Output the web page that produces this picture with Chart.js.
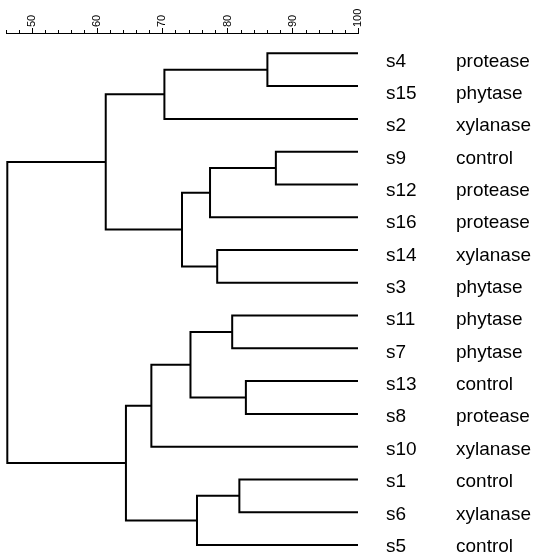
<!DOCTYPE html>
<html>
<head>
<meta charset="utf-8">
<script src="https://cdn.jsdelivr.net/npm/chart.js@4/dist/chart.umd.min.js"></script>
<style>
  html, body { margin: 0; padding: 0; background: #fff; }
  #wrap { width: 537px; height: 555px; }
</style>
</head>
<body>
<div id="wrap"><canvas id="dendro"></canvas></div>
<script>
// leaves, top to bottom
const samples = ['s4', 's15', 's2', 's9', 's12', 's16', 's14', 's3', 's11', 's7', 's13', 's8', 's10', 's1', 's6', 's5'];
const treatments = ['protease', 'phytase', 'xylanase', 'control', 'protease', 'protease', 'xylanase', 'phytase',
                    'phytase', 'phytase', 'control', 'protease', 'xylanase', 'control', 'xylanase', 'control'];

// joins in order; a number points at an earlier join, a string at a sample
const mergeA = ['s4', 0, 's9', 2, 's14', 3, 1, 's11', 's13', 7, 9, 's1', 11, 10, 6];
const mergeB = ['s15', 's2', 's12', 's16', 's3', 4, 5, 's7', 's8', 8, 's10', 's6', 's5', 12, 13];
const mergeLevel = [86.1, 70.3, 87.4, 77.3, 78.4, 73.0, 61.3, 80.7, 82.8, 74.3, 68.3, 81.8, 75.3, 64.4, 46.2];

const leafLevel = 100;
const axisLabels = [50, 60, 70, 80, 90, 100];

Chart.defaults.font.family = '"Liberation Sans", Arial, sans-serif';
Chart.defaults.color = '#000';

const nodes = [];
function place(c) {
    if (typeof c === 'string') return { x: leafLevel, y: samples.indexOf(c) };
    return nodes[c];
}

const datasets = mergeLevel.map(function (lv, i) {
    const a = place(mergeA[i]);
    const b = place(mergeB[i]);
    nodes[i] = { x: lv, y: (a.y + b.y) / 2 };
    return {
        data: [{ x: a.x, y: a.y }, { x: lv, y: a.y }, { x: lv, y: b.y }, { x: b.x, y: b.y }],
        showLine: true,
        borderColor: '#000',
        borderWidth: 2,
        pointRadius: 0,
        clip: false
    };
});

// short ticks between the labelled ones
const minorTicks = {
    id: 'minorTicks',
    afterDraw(chart) {
        const sc = chart.scales.x, ctx = chart.ctx;
        ctx.save();
        ctx.strokeStyle = '#000';
        ctx.lineWidth = 1;
        sc.ticks.forEach(function (t) {
            if (Math.round(t.value) % 10 === 0) return;
            const px = Math.round(sc.getPixelForValue(t.value)) + 0.5;
            ctx.beginPath();
            ctx.moveTo(px, sc.bottom);
            ctx.lineTo(px, sc.bottom - 3);
            ctx.stroke();
        });
        ctx.restore();
    }
};

function leafTicks(scale) {
    scale.ticks = samples.map((_, i) => ({ value: i }));
}

function fixSide(width) {
    return function (scale) {
        scale.width = width;
        scale.paddingTop = 0;
        scale.paddingBottom = 0;
    };
}

new Chart(document.getElementById('dendro'), {
    type: 'scatter',
    data: { datasets: datasets },
    plugins: [minorTicks],
    options: {
        responsive: true,
        maintainAspectRatio: false,
        animation: false,
        layout: { padding: { top: 4, left: 6, right: 0, bottom: 10 } },
        plugins: { legend: { display: false }, tooltip: { enabled: false } },
        scales: {
            x: {
                type: 'linear',
                position: 'top',
                min: 46,
                max: 100,
                afterFit: function (scale) {
                    scale.height = 29;
                    scale.paddingLeft = 0;
                    scale.paddingRight = 0;
                },
                ticks: {
                    stepSize: 2,
                    autoSkip: false,
                    minRotation: 90,
                    maxRotation: 90,
                    padding: 1,
                    font: { size: 11, lineHeight: 0 },
                    callback: v => axisLabels.includes(Math.round(v)) ? String(Math.round(v)) : ''
                },
                grid: {
                    drawOnChartArea: false,
                    tickLength: 5,
                    tickColor: ctx => (ctx.tick && Math.round(ctx.tick.value) % 10 === 0) ? '#000' : 'rgba(0,0,0,0)'
                },
                border: { color: '#000', width: 1 }
            },
            y: {
                type: 'linear',
                display: false,
                reverse: true,
                min: -0.62,
                max: 15
            },
            ids: {
                type: 'linear',
                position: 'right',
                reverse: true,
                min: -0.88,
                max: 14.95,
                weight: 0,
                afterBuildTicks: leafTicks,
                afterFit: fixSide(60),
                ticks: { padding: 28, font: { size: 19 }, autoSkip: false, callback: v => samples[v] },
                grid: { display: false, drawTicks: false },
                border: { display: false }
            },
            groups: {
                type: 'linear',
                position: 'right',
                reverse: true,
                min: -0.88,
                max: 14.95,
                weight: 1,
                afterBuildTicks: leafTicks,
                afterFit: fixSide(119),
                ticks: { padding: 38, font: { size: 19 }, autoSkip: false, callback: v => treatments[v] },
                grid: { display: false, drawTicks: false },
                border: { display: false }
            }
        }
    }
});
</script>
</body>
</html>
